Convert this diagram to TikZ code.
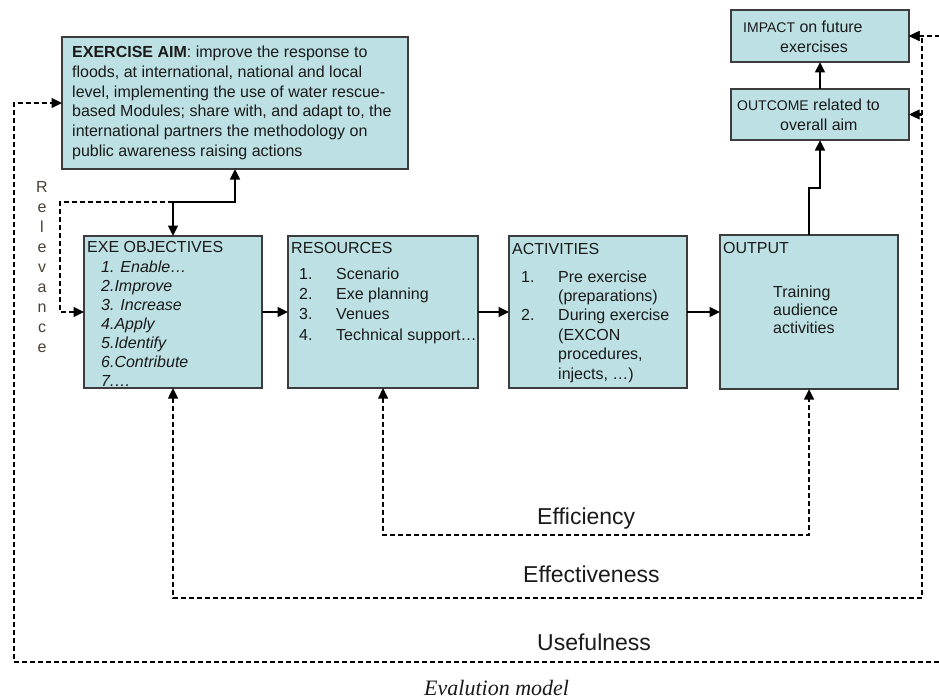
\documentclass[tikz,border=0pt]{standalone}
\usepackage{fontspec}
\setmainfont{Liberation Sans}
\newfontfamily\capfont{Liberation Serif}
\usetikzlibrary{arrows.meta}
\definecolor{boxfill}{HTML}{BCE0E3}
\definecolor{boxline}{HTML}{3C3C3C}
\definecolor{txt}{HTML}{1A1A1A}
\definecolor{relcol}{HTML}{4B4036}
\tikzset{tipx/.tip={Triangle[length=10.5pt,width=9.5pt]}}
\begin{document}
\begin{tikzpicture}[x=1pt,y=-1pt,
 box/.style={draw=boxline, fill=boxfill, line width=1.4pt, anchor=north west, inner sep=0pt, outer sep=0pt},
 body/.style={font=\fontsize{16}{19.6}\selectfont, text=txt, inner sep=0pt, anchor=base west, align=left},
 arr/.style={line width=2.5pt, -tipx},
 darr/.style={line width=2.4pt, dash pattern=on 5pt off 3pt, -tipx},
 dline/.style={line width=2.4pt, dash pattern=on 5pt off 3pt},
 big/.style={font=\fontsize{23}{27}\selectfont, text=txt, inner sep=0pt, anchor=base west}
]
\useasboundingbox (0,0) rectangle (939,698);

% boxes
\node[box, minimum width=346, minimum height=132] (aim) at (62,37) {};
\node[box, minimum width=178, minimum height=52] (impact) at (731,10) {};
\node[box, minimum width=178, minimum height=51] (outcome) at (731,89) {};
\node[box, minimum width=178, minimum height=152] (exe) at (84,236) {};
\node[box, minimum width=190, minimum height=152] (res) at (288,236) {};
\node[box, minimum width=178, minimum height=152] (act) at (509,236) {};
\node[box, minimum width=178, minimum height=154] (out) at (720,235) {};

% texts (base anchor = baseline of the last line)
\node[body] (aimtxt) at (72,156) {\textbf{EXERCISE AIM}: improve the response to\\floods, at international, national and local\\level, implementing the use of water rescue-\\based Modules; share with, and adapt to, the\\international partners the methodology on\\public awareness raising actions};

\node[body] (imptxt) at (743,52.6) {{\fontsize{14}{19.6}\selectfont IMPACT} on future\\\hspace*{37pt}exercises};
\node[body] (outctxt) at (737,130.6) {{\fontsize{14}{19.6}\selectfont OUTCOME} related to\\\hspace*{43pt}overall aim};

\node[body] (exehead) at (87,252) {EXE OBJECTIVES};
\node[body, font=\fontsize{16}{19}\selectfont\itshape] (exeitems) at (101,386) {1. Enable\dots\\2.Improve\\3. Increase\\4.Apply\\5.Identify\\6.Contribute\\7.\dots};

\node[body] (reshead) at (291,253) {RESOURCES};
\node[body, font=\fontsize{16}{20.4}\selectfont] (resitems) at (299,340.2) {\makebox[37pt][l]{1.}Scenario\\\makebox[37pt][l]{2.}Exe planning\\\makebox[37pt][l]{3.}Venues\\\makebox[37pt][l]{4.}Technical support\dots};

\node[body] (acthead) at (512,254) {ACTIVITIES};
\node[body, font=\fontsize{16}{19.4}\selectfont] (actitems) at (521,379) {\makebox[37pt][l]{1.}Pre exercise\\\hspace*{37pt}(preparations)\\\makebox[37pt][l]{2.}During exercise\\\hspace*{37pt}(EXCON\\\hspace*{37pt}procedures,\\\hspace*{37pt}injects, \dots)};

\node[body] (outhead) at (723,253) {OUTPUT};
\node[body, font=\fontsize{16}{18.3}\selectfont] (outitems) at (773,333.6) {Training\\audience\\activities};

\node[body, font=\fontsize{16}{20}\selectfont, text=relcol, align=center, anchor=base] (rel) at (42,352) {R\\e\\l\\e\\v\\a\\n\\c\\e};

\node[big] (eff) at (537,524) {Efficiency};
\node[big] (effv) at (523,582) {Effectiveness};
\node[big] (use) at (537,650) {Usefulness};
\node[inner sep=0pt, anchor=base west, text=txt, font=\capfont\itshape\fontsize{22}{26}\selectfont] (cap) at (424,695) {Evalution model};

% junction coordinates
\coordinate (j1) at (173,202);
\coordinate (j2) at (809,188);
\coordinate (j3) at (820,188);
\coordinate (r1) at (60,202);
\coordinate (r2) at (60,312);
\coordinate (u1) at (944,36);
\coordinate (u2) at (944,662);
\coordinate (u3) at (14,662);
\coordinate (u4) at (14,103);
\coordinate (e1) at (173,598);
\coordinate (e2) at (922,598);
\coordinate (e3) at (922,36);
\coordinate (e4) at (922,114.5);
\coordinate (f1) at (383,535);
\coordinate (f2) at (809,535);

% solid connectors
\draw[line width=2.5pt, tipx-tipx] (exe.north) -- (j1) -| (aim.south);
\draw[arr] (exe.east) -- (res.west);
\draw[arr] (res.east) -- (act.west);
\draw[arr] (act.east) -- (out.west);
\draw[arr] (out.north) -- (j2) -- (j3) -- (outcome.south);
\draw[arr] (outcome.north) -- (impact.south);

% dashed connectors
\draw[darr] (j1) -- (r1) -- (r2) -- (exe.west);
\draw[dline, tipx-tipx] (impact.east) -- (u1) -- (u2) -- (u3) -- (u4) -- (aim.west);
\draw[dline, tipx-tipx] (exe.south) -- (e1) -- (e2) -- (e3) -- (impact.east);
\draw[darr] (e4) -- (outcome.east);
\draw[dline, tipx-tipx] (res.south) -- (f1) -- (f2) -- (out.south);
\end{tikzpicture}
\end{document}
